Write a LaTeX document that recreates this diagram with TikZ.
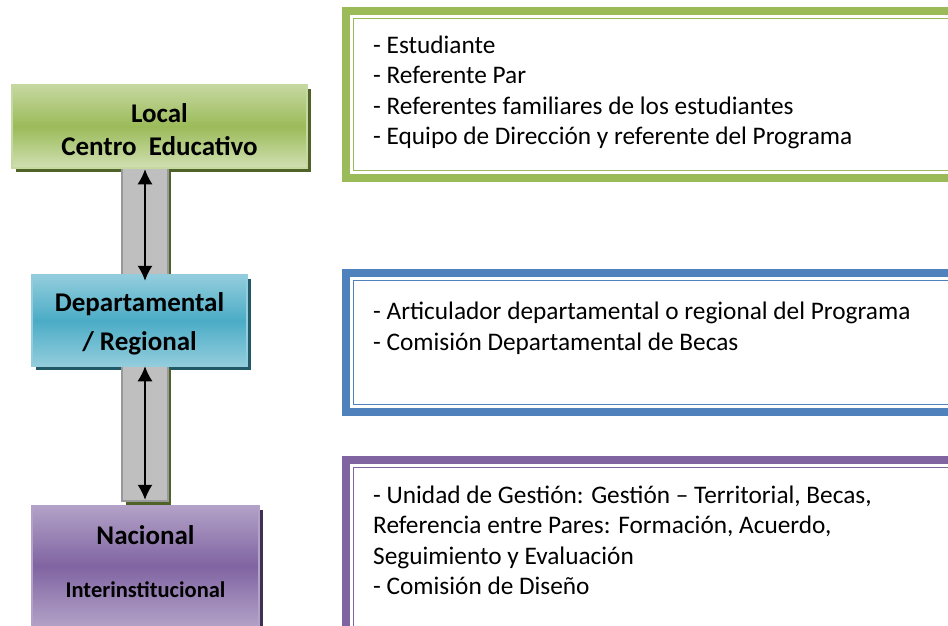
\documentclass[tikz,border=0pt]{standalone}
\usepackage{fontspec}
\setmainfont{Carlito}
\usetikzlibrary{arrows.meta}
\definecolor{gTop}{HTML}{C5D8A0}
\definecolor{gMid}{HTML}{9BBB59}
\definecolor{gDark}{HTML}{4F6228}
\definecolor{bTop}{HTML}{93CDDD}
\definecolor{bMid}{HTML}{4BACC6}
\definecolor{bDark}{HTML}{215968}
\definecolor{pTop}{HTML}{B3A2C7}
\definecolor{pMid}{HTML}{8064A2}
\definecolor{pDark}{HTML}{3F3151}
\definecolor{frameB}{HTML}{4F81BD}
\definecolor{connFill}{HTML}{BFBFBF}
\definecolor{connLine}{HTML}{999999}
\tikzset{
  levelbox/.style={draw=#1, line width=1.2pt, inner sep=0pt, align=center,
    font=\bfseries\fontsize{27}{33}\selectfont},
  connbox/.style={fill=connFill, draw=connLine, line width=1.5pt, minimum width=46pt, inner sep=0pt},
  outerframe/.style={draw=#1, line width=8pt},
  innerframe/.style={draw=#1, line width=1.5pt},
  listtext/.style={anchor=north west, align=left, inner sep=0pt, font=\fontsize{25.3}{30.5}\selectfont},
  biarrow/.style={{Latex[length=15pt,width=15pt]}-{Latex[length=15pt,width=15pt]}, line width=1.5pt, black}
}
\begin{document}
\begin{tikzpicture}[x=1pt,y=-1pt]
\useasboundingbox (0,0) rectangle (948,626);
\clip (0,0) rectangle (948,626);
\fill[white] (0,0) rectangle (948,626);

% ---- right frames
\draw[outerframe=gMid] (346,11) rectangle (1000,178);
\draw[innerframe=gMid] (353.5,18.5) rectangle (1000,170.5);
\draw[outerframe=frameB] (346,273) rectangle (1000,412);
\draw[innerframe=frameB] (353.5,280.5) rectangle (1000,404.5);
\draw[outerframe=pMid] (346,460) rectangle (1000,700);
\draw[innerframe=pMid] (353.5,467.5) rectangle (1000,692);

\node[listtext] (tG) at (373,35.5) {- Estudiante\\- Referente Par\\- Referentes familiares de los estudiantes\\- Equipo de Dirección y referente del Programa};
\node[listtext] (tB) at (373,302) {- Articulador departamental o regional del Programa\\- Comisión Departamental de Becas};
\node[listtext] (tP) at (373,485.5) {- Unidad de Gestión: Gestión – Territorial, Becas,\\Referencia entre Pares: Formación, Acuerdo,\\Seguimiento y Evaluación\\- Comisión de Diseño};

% ---- shadows
\fill[gDark] (16,89) rectangle (311,172);
\fill[bDark] (36,279) rectangle (251,370);
\fill[pDark] (36,510) rectangle (263,630);
\fill[gDark] (126,171) rectangle (171,286);
\fill[gDark] (126,369) rectangle (171,505);

% ---- connectors
\node[connbox, minimum height=116pt] (c1) at (145,225) {};
\node[connbox, minimum height=136pt] (c2) at (145,433) {};

% ---- level boxes
\node[levelbox=gTop, minimum width=295pt, minimum height=83pt, top color=gTop, bottom color=gTop!80!white, middle color=gMid] (lG) at (159.5,126.5) {};
\node[font=\bfseries\fontsize{27}{33}\selectfont, inner sep=0pt, align=center] (tL) at (159.5,130) {Local\\Centro\ \ Educativo};
\node[levelbox=bTop, minimum width=215pt, minimum height=91pt, top color=bTop, bottom color=bTop, middle color=bMid] (lB) at (139.5,320.5) {};
\node[font=\bfseries\fontsize{27}{39}\selectfont, inner sep=0pt, align=center] (tD) at (139.5,323.5) {Departamental\\/ Regional};
\node[levelbox=pTop, minimum width=227pt, minimum height=121pt, top color=pTop, bottom color=pTop, middle color=pMid] (lP) at (145.5,566) {};
\node[font=\bfseries\fontsize{27}{30}\selectfont, inner sep=0pt] (nN) at (lP.center |- 0,535) {Nacional};
\node[font=\bfseries\fontsize{22.5}{25}\selectfont, inner sep=0pt] (nI) at (lP.center |- 0,590) {Interinstitucional};

% ---- arrows
\draw[biarrow] ([yshift=-3pt]c1.north) -- ([yshift=3pt]c1.south);
\draw[biarrow] ([yshift=-2pt]c2.north) -- ([yshift=2pt]c2.south);
\end{tikzpicture}
\end{document}
